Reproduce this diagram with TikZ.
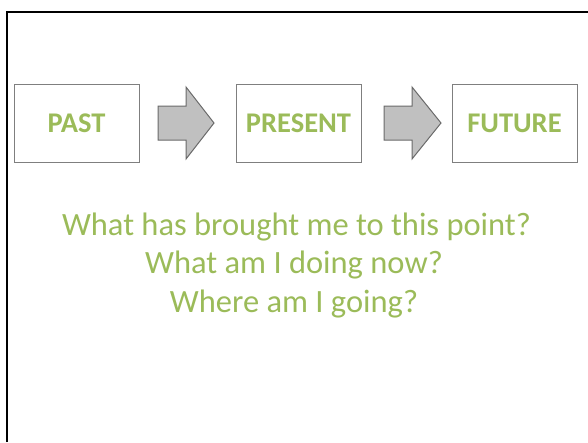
\documentclass[tikz,border=0pt]{standalone}
\usepackage{fontspec}
\setmainfont{Carlito}
\definecolor{olive}{HTML}{9BBB59}
\definecolor{boxgray}{HTML}{7F7F7F}
\definecolor{arrowfill}{HTML}{C0C0C0}
\definecolor{arrowline}{HTML}{6A6A6A}
\tikzset{
  stage/.style={draw=boxgray, line width=1pt, minimum width=125pt, minimum height=78pt,
    inner sep=0pt, text=olive, font=\fontsize{28.5}{30}\selectfont\bfseries},
  question/.style={anchor=base, text=olive, inner sep=0pt, font=\fontsize{32.5}{36}\selectfont},
  blockarrow/.style={draw=arrowline, fill=arrowfill, line width=1pt, line join=miter}
}
\begin{document}
\begin{tikzpicture}[x=1pt,y=-1pt]

\useasboundingbox (0,0) rectangle (588,442);

% frame along top and left
\draw[line width=2.4pt] (7,442) -- (7,11.8) -- (588,11.8);

% the three stages
\node[stage] (past)    at (76.5,123)  {PAST};
\node[stage] (present) at (298.5,123) {PRESENT};
\node[stage] (future)  at (514.5,123) {FUTURE};

% block arrows between the boxes
\draw[blockarrow] (158,106) -- (186,106) -- (186,87) -- (214,123) -- (186,159) -- (186,140) -- (158,140) -- cycle;
\draw[blockarrow] (384,106) -- (412,106) -- (412,87) -- (441,123) -- (412,159) -- (412,140) -- (384,140) -- cycle;

% questions
\node[question] (q1) at (296.5,235) {What has brought me to this point?};
\node[question] (q2) at (294,273.5) {What am I doing now?};
\node[question] (q3) at (294,312) {Where am I going?};

\end{tikzpicture}
\end{document}
